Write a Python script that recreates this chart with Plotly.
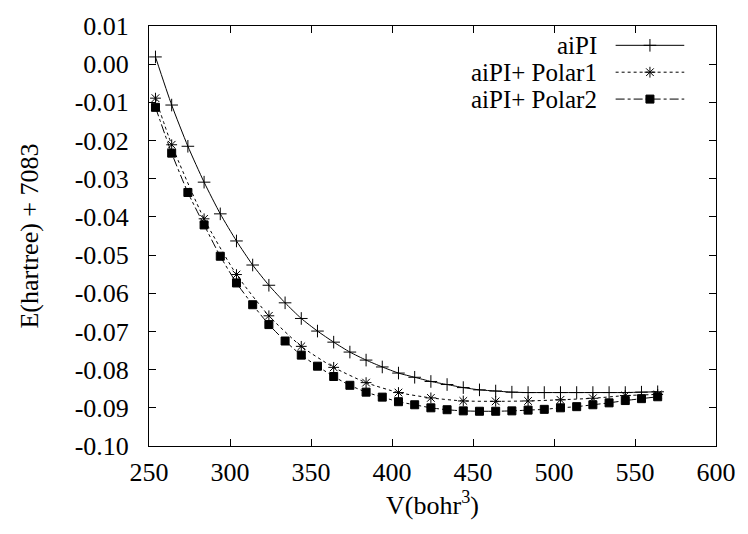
import plotly.graph_objects as go

# ---- data ----
V_aipi = [254, 264, 274, 284, 294, 304, 314, 324, 334, 344, 354, 364, 374, 384, 394, 404,
          414, 424, 434, 444, 454, 464, 474, 484, 494, 504, 514, 524, 534, 544, 554, 564]
E_aipi = [0.0019, -0.0107, -0.0215, -0.0309, -0.0392, -0.0463, -0.0526, -0.0579, -0.0625,
          -0.0666, -0.0699, -0.0728, -0.0754, -0.0775, -0.0793, -0.0809, -0.0820, -0.0831,
          -0.0839, -0.0847, -0.0853, -0.0856, -0.0859, -0.0860, -0.0860, -0.0860, -0.0860,
          -0.0860, -0.0860, -0.0860, -0.0859, -0.0858]

V_p1 = [254, 264, 284, 304, 324, 344, 364, 384, 404, 424, 444, 464, 484, 504, 524, 544, 564]
E_p1 = [-0.0089, -0.0211, -0.0405, -0.0551, -0.0659, -0.0739, -0.0794, -0.0834, -0.0860,
        -0.0874, -0.0882, -0.0883, -0.0882, -0.0879, -0.0875, -0.0868, -0.0865]

V_p2 = [254, 264, 274, 284, 294, 304, 314, 324, 334, 344, 354, 364, 374, 384, 394, 404,
        414, 424, 434, 444, 454, 464, 474, 484, 494, 504, 514, 524, 534, 544, 554, 564]
E_p2 = [-0.0113, -0.0233, -0.0336, -0.0421, -0.0503, -0.0573, -0.0630, -0.0682, -0.0725,
        -0.0762, -0.0791, -0.0818, -0.0841, -0.0859, -0.0872, -0.0884, -0.0892, -0.0900,
        -0.0905, -0.0908, -0.0909, -0.0909, -0.0908, -0.0906, -0.0904, -0.0900, -0.0897,
        -0.0892, -0.0887, -0.0881, -0.0876, -0.0871]

series_names = ["aiPI", "aiPI+ Polar1", "aiPI+ Polar2"]

x_ticks = [250, 300, 350, 400, 450, 500, 550, 600]
x_ticklabels = ["250", "300", "350", "400", "450", "500", "550", "600"]
y_ticks = [0.01, 0.00, -0.01, -0.02, -0.03, -0.04, -0.05, -0.06, -0.07, -0.08, -0.09, -0.10]
y_ticklabels = ["0.01", "0.00", "-0.01", "-0.02", "-0.03", "-0.04", "-0.05", "-0.06",
                "-0.07", "-0.08", "-0.09", "-0.10"]

FONT = "'Liberation Serif', 'Times New Roman', Times, serif"
FS = 26
LEG_FS = 25

styles = [
    dict(dash="solid", symbol="cross-thin-open", size=9),
    dict(dash="dot", symbol="asterisk-open", size=9),
    dict(dash="dashdot", symbol="square", size=8),
]
data = [(V_aipi, E_aipi), (V_p1, E_p1), (V_p2, E_p2)]

fig = go.Figure()
for (xs, ys), st, nm in zip(data, styles, series_names):
    fig.add_trace(go.Scatter(
        x=xs, y=ys, name=nm, mode="lines+markers", showlegend=False,
        line=dict(color="black", width=1, dash=st["dash"], shape="spline", smoothing=0.6),
        marker=dict(symbol=st["symbol"], size=st["size"], color="black",
                    line=dict(color="black", width=1)),
    ))

# ---- custom legend (text right-aligned, sample to the right), in a hidden overlay axis ----
leg_text_x = 0.792
leg_x0, leg_x1 = 0.823, 0.944
leg_rows = [0.954, 0.890, 0.826]
for st, nm, ry in zip(styles, series_names, leg_rows):
    fig.add_trace(go.Scatter(
        x=[leg_x0, leg_x1], y=[ry, ry], xaxis="x2", yaxis="y2", mode="lines",
        showlegend=False, hoverinfo="skip",
        line=dict(color="black", width=1, dash=st["dash"]),
    ))
    fig.add_trace(go.Scatter(
        x=[(leg_x0 + leg_x1) / 2], y=[ry], xaxis="x2", yaxis="y2", mode="markers",
        showlegend=False, hoverinfo="skip",
        marker=dict(symbol=st["symbol"], size=st["size"], color="black",
                    line=dict(color="black", width=1)),
    ))
    fig.add_annotation(
        x=leg_text_x, y=ry, xref="x2", yref="y2", text=nm, showarrow=False,
        xanchor="right", yanchor="middle", borderpad=0,
        font=dict(family=FONT, size=LEG_FS, color="black"),
    )

axis_common = dict(
    showgrid=False, zeroline=False, showline=True, linecolor="black", linewidth=1,
    mirror="allticks", ticks="inside", ticklen=7, tickcolor="black", tickwidth=1,
    tickfont=dict(family=FONT, size=FS, color="black"),
)

fig.update_layout(
    width=748, height=534,
    margin=dict(l=149, r=23, t=15, b=88),
    paper_bgcolor="white", plot_bgcolor="white",
    font=dict(family=FONT, size=FS, color="black"),
    xaxis=dict(
        range=[250, 600], tickvals=x_ticks, ticktext=x_ticklabels,
        title=dict(text="V(bohr<sup>3</sup>)", font=dict(family=FONT, size=FS, color="black"),
                   standoff=2),
        ticklabelstandoff=3,
        **axis_common,
    ),
    yaxis=dict(
        range=[-0.10, 0.01], tickvals=y_ticks, ticktext=y_ticklabels,
        title=dict(text="E(hartree) + 7083", font=dict(family=FONT, size=FS, color="black"),
                   standoff=28),
        ticklabelstandoff=14,
        **axis_common,
    ),
    xaxis2=dict(overlaying="x", range=[0, 1], visible=False, fixedrange=True),
    yaxis2=dict(overlaying="y", range=[0, 1], visible=False, fixedrange=True),
    showlegend=False,
)

fig.write_html("out.html")
